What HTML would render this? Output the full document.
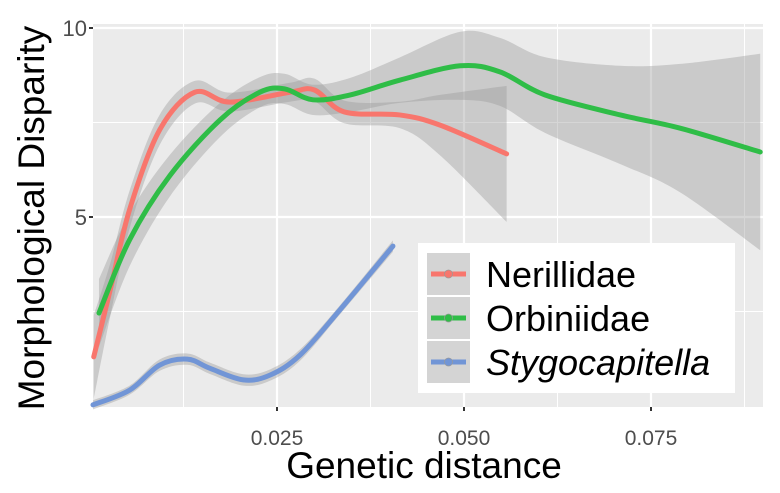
<!DOCTYPE html>
<html><head><meta charset="utf-8"><style>
body{margin:0;background:#fff;}
svg text{font-family:"Liberation Sans",Arial,sans-serif;}
</style></head><body>
<svg id="chart" width="780" height="488" viewBox="0 0 780 488" xmlns="http://www.w3.org/2000/svg">
<rect x="93" y="24" width="670" height="383" fill="#ebebeb"/>
<g id="grid"></g>
<g id="bands"></g>
<g id="lines"></g>
<g id="axes"></g>
<text transform="translate(44,218) rotate(-90)" text-anchor="middle" font-size="37" fill="#000">Morphological Disparity</text>
<text x="424" y="478" text-anchor="middle" font-size="37" fill="#000">Genetic distance</text>
<g>
<rect x="418" y="243" width="317" height="150" fill="#fff"/>
<g id="legend-items"></g>
</g>
</svg>
<script>
const xTicks=[0.025,0.05,0.075];
const xTickLabels=["0.025","0.050","0.075"];
const yTicks=[5,10];
const yTickLabels=["5","10"];
const seriesNames=["Nerillidae","Orbiniidae","Stygocapitella"];
const colors=["#f8766d","#2fbd47","#7195d6"];
const nerX=[0.0005,0.0027,0.0053,0.0093,0.014,0.0187,0.0267,0.030,0.034,0.0414,0.0468,0.0557];
const nerY=[1.3,3.07,5.2,7.3,8.3,8.04,8.3,8.36,7.78,7.7,7.43,6.67];
const nerSE=[1.1,0.7,0.5,0.4,0.3,0.25,0.25,0.3,0.3,0.35,0.8,1.8];
const orbX=[0.0012,0.0053,0.0107,0.0174,0.0227,0.026,0.0298,0.0348,0.0414,0.0495,0.0548,0.0608,0.0709,0.0789,0.0896];
const orbY=[2.46,4.4,6.1,7.57,8.3,8.39,8.1,8.23,8.62,9.0,8.84,8.23,7.7,7.35,6.72];
const orbSE=[0.9,0.7,0.55,0.45,0.4,0.4,0.4,0.45,0.6,0.9,0.9,1.0,1.3,1.7,2.6];
const styX=[0.0004,0.0053,0.0093,0.013,0.016,0.0205,0.0241,0.0281,0.0334,0.0405];
const styY=[0.03,0.42,1.08,1.24,1.0,0.69,0.82,1.35,2.54,4.23];
const stySE=[0.12,0.12,0.15,0.15,0.15,0.15,0.15,0.15,0.12,0.15];

const X0=93,X1=763,Y0=24,Y1=407;
function sx(v){return 277+(v-0.025)/0.025*187;}
function sy(v){return 217-(v-5)*37.8;}
const NS="http://www.w3.org/2000/svg";
function mk(tag,attrs,parent){const e=document.createElementNS(NS,tag);for(const k in attrs)e.setAttribute(k,attrs[k]);parent.appendChild(e);return e;}
function smooth(pts){let d="M"+pts[0][0]+","+pts[0][1];for(let i=0;i<pts.length-1;i++){const p0=pts[i-1]||pts[i],p1=pts[i],p2=pts[i+1],p3=pts[i+2]||p2;
const c1=[p1[0]+(p2[0]-p0[0])/6,p1[1]+(p2[1]-p0[1])/6],c2=[p2[0]-(p3[0]-p1[0])/6,p2[1]-(p3[1]-p1[1])/6];
d+=" C"+c1[0]+","+c1[1]+" "+c2[0]+","+c2[1]+" "+p2[0]+","+p2[1];}return d;}

const grid=document.getElementById('grid');
[0.0125,0.0375,0.0625,0.0875].forEach(v=>{const l=mk('line',{x1:sx(v),x2:sx(v),y1:Y0,y2:Y1,stroke:'#fff','stroke-width':1},grid);

});
[2.5,7.5].forEach(v=>{const l=mk('line',{x1:X0,x2:X1,y1:sy(v),y2:sy(v),stroke:'#fff','stroke-width':1},grid);

});
xTicks.forEach(v=>{const l=mk('line',{x1:sx(v),x2:sx(v),y1:Y0,y2:Y1,stroke:'#fff','stroke-width':2.2},grid);

});
yTicks.forEach(v=>{const l=mk('line',{x1:X0,x2:X1,y1:sy(v),y2:sy(v),stroke:'#fff','stroke-width':2.2},grid);

});

const axes=document.getElementById('axes');
xTicks.forEach((v,i)=>{mk('line',{x1:sx(v),x2:sx(v),y1:Y1,y2:Y1+4,stroke:'#333','stroke-width':2},axes);
const t=mk('text',{x:sx(v),y:Y1+38,'text-anchor':'middle','font-size':21,fill:'#4d4d4d'},axes);t.textContent=xTickLabels[i];

});
yTicks.forEach((v,i)=>{mk('line',{x1:X0-4,x2:X0,y1:sy(v),y2:sy(v),stroke:'#333','stroke-width':2},axes);
const t=mk('text',{x:X0-6,y:sy(v)+8,'text-anchor':'end','font-size':22,fill:'#4d4d4d'},axes);t.textContent=yTickLabels[i];

});

const data=[[nerX,nerY,nerSE],[orbX,orbY,orbSE],[styX,styY,stySE]];
const bands=document.getElementById('bands'),lines=document.getElementById('lines');
const keys=['nerillidae','orbiniidae','stygocapitella'];
data.forEach((s,k)=>{const [xs,ys,se]=s;
const up=xs.map((x,i)=>[sx(x),sy(ys[i]+se[i])]),lo=xs.map((x,i)=>[sx(x),sy(ys[i]-se[i])]).reverse();
const dl=smooth(lo).replace('M','L');
const b=mk('path',{d:smooth(up)+" "+dl+" Z",fill:'#999','fill-opacity':0.4},bands);


const l=mk('path',{d:smooth(xs.map((x,i)=>[sx(x),sy(ys[i])])),fill:'none',stroke:colors[k],'stroke-width':5,'stroke-linecap':'round'},lines);

});

const leg=document.getElementById('legend-items');
seriesNames.forEach((n,i)=>{const y=253+i*44;
const g=mk('g',{},leg);


mk('rect',{x:427,y:y,width:43,height:42,fill:'#d4d4d4'},g);
mk('line',{x1:431,x2:466,y1:y+21,y2:y+21,stroke:colors[i],'stroke-width':5},g);
mk('circle',{cx:448.5,cy:y+21,r:4,fill:colors[i],stroke:'#999','stroke-width':0.7},g);
const t=mk('text',{x:486,y:y+34,'font-size':36,fill:'#000'},g);t.textContent=n;
if(i==2)t.setAttribute('font-style','italic');});
</script>
</body></html>
